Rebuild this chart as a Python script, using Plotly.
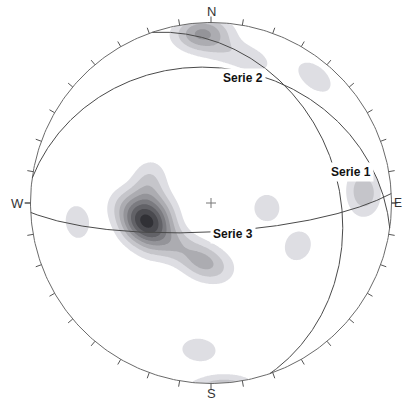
import numpy as np
import plotly.graph_objects as go

# Great circles (planes): dip direction / dip, degrees
PLANE_NAMES = ['Serie 1', 'Serie 2', 'Serie 3']
PLANE_DIPDIR = [71, 8, 177]
PLANE_DIP = [30, 26, 77]

# Poles used for the density contours: trend / plunge (deg) and weight
POLE_TREND = [253.5, 264.7, 240.4, 259.6, 252.4, 277.2, 294.7, 268.7, 220.6, 235.5, 200.1, 185.7, 170.7,
              261.9, 95.1, 116.3, 83.5, 86.4, 88.8, 39.5, 184.7,
              357.2, 354.0, 1.3, 4.1, 13.1, 19.4, 356.0]
POLE_PLUNGE = [59.7, 55.2, 63.4, 67.5, 52.1, 61.2, 59.5, 48.2, 65.0, 56.3, 65.0, 62.7, 59.2,
               26.0, 64.6, 45.3, 18.0, 12.8, 19.7, 10.4, 19.4,
               10.5, 5.9, 4.6, 16.1, 18.1, 19.5, 1.5]
POLE_WEIGHT = [2.2, 1.1, 1.1, 0.9, 0.9, 0.9, 0.7, 0.6, 0.9, 0.6, 0.7, 1.1, 0.6,
               0.85, 0.8, 0.85, 0.6, 0.7, 0.4, 0.9, 0.85,
               1.0, 0.6, 0.5, 0.5, 0.5, 0.35, 0.6]

CONTOUR_LEVELS = np.arange(0.5, 5.01, 0.5)

# page geometry (pixels): net centre and radius
W, H = 404, 405
CX, CY, R = 211, 203, 180.5
KAPPA = 95.0


def px(sx, sy):
    return (sx - CX) / R, (CY - sy) / R


def project(theta, trend):
    """Lower hemisphere equal-area: theta = angle from vertical (rad)."""
    r = np.sqrt(2) * np.sin(theta / 2)
    return r * np.sin(trend), r * np.cos(trend)


# --- density grid ---
n = 361
g = np.linspace(-1, 1, n)
gx, gy = np.meshgrid(g, g)
rr = np.sqrt(gx ** 2 + gy ** 2)
inside = rr <= 1
th = 2 * np.arcsin(np.clip(rr / np.sqrt(2), 0, 1))
tr = np.arctan2(gx, gy)
G = np.stack([np.sin(th) * np.sin(tr), np.sin(th) * np.cos(tr), np.cos(th)], axis=-1).reshape(-1, 3)

pt = np.radians(POLE_TREND)
pp = np.radians(POLE_PLUNGE)
P = np.stack([np.cos(pp) * np.sin(pt), np.cos(pp) * np.cos(pt), np.sin(pp)], axis=-1)
dens = (np.exp(KAPPA * (np.abs(G @ P.T) - 1)) * np.array(POLE_WEIGHT)).sum(axis=1).reshape(n, n)
dens[~inside] = 0

nc = len(CONTOUR_LEVELS)
greys = np.linspace(222, 0, nc)
band_cols = ['rgb(255,255,255)'] + ['rgb(%d,%d,%d)' % (v, v, min(255, v + 5)) for v in greys]
colorscale = [[i / nc, c] for i, c in enumerate(band_cols)]

fig = go.Figure()
fig.add_trace(go.Contour(
    x=g, y=g, z=dens,
    contours=dict(start=CONTOUR_LEVELS[0], end=CONTOUR_LEVELS[-1],
                  size=CONTOUR_LEVELS[1] - CONTOUR_LEVELS[0], coloring='fill', showlines=False),
    colorscale=colorscale, showscale=False, line=dict(width=0), hoverinfo='skip'))

# primitive circle
a = np.radians(np.arange(0, 361, 1))
fig.add_trace(go.Scatter(x=np.sin(a), y=np.cos(a), mode='lines',
                         line=dict(color='#6a6a6a', width=1), hoverinfo='skip'))

# 10 degree ticks
tx, ty = [], []
for az in np.radians(np.arange(0, 360, 10)):
    tx += [np.sin(az), np.sin(az) * (1 + 6 / R), None]
    ty += [np.cos(az), np.cos(az) * (1 + 6 / R), None]
fig.add_trace(go.Scatter(x=tx, y=ty, mode='lines', line=dict(color='#555', width=1), hoverinfo='skip'))

# centre cross
c = 5 / R
fig.add_trace(go.Scatter(x=[-c, c, None, 0, 0], y=[0, 0, None, -c, c], mode='lines',
                         line=dict(color='#777', width=1), hoverinfo='skip'))

# great circles
for name, dd, dip in zip(PLANE_NAMES, PLANE_DIPDIR, PLANE_DIP):
    d, s, dp = np.radians(dd), np.radians(dd - 90), np.radians(dip)
    rake = np.radians(np.linspace(0, 180, 361))
    e = np.cos(rake) * np.sin(s) + np.sin(rake) * np.cos(dp) * np.sin(d)
    nn = np.cos(rake) * np.cos(s) + np.sin(rake) * np.cos(dp) * np.cos(d)
    dn = np.sin(rake) * np.sin(dp)
    x, y = project(np.arccos(np.clip(dn, -1, 1)), np.arctan2(e, nn))
    fig.add_trace(go.Scatter(x=x, y=y, mode='lines', name=name,
                             line=dict(color='#4a4a4a', width=1), hoverinfo='skip'))

annots = []
for text, (sx, sy) in zip(PLANE_NAMES, [(351, 172), (243, 78), (233, 234)]):
    x, y = px(sx, sy)
    annots.append(dict(x=x, y=y, text='<b>%s</b>' % text, showarrow=False, bgcolor='white',
                       borderpad=2, font=dict(family='Liberation Sans, Arial', size=12, color='#111')))
for text, (sx, sy), anchor, size in zip(['N', 'S', 'W', 'E'],
                                        [(211, 11), (211, 393), (17, 203), (404, 203)],
                                        ['center', 'center', 'center', 'right'], [13, 13, 13, 12]):
    x, y = px(sx, sy)
    annots.append(dict(x=x, y=y, text=text, showarrow=False, xanchor=anchor,
                       font=dict(family='Liberation Sans, Arial', size=size, color='#333')))
# short cardinal dashes next to W and E labels
fig.add_trace(go.Scatter(x=[px(25, 0)[0], -1, None, 1, px(396, 0)[0]], y=[0, 0, None, 0, 0], mode='lines',
                         line=dict(color='#555', width=1), hoverinfo='skip'))

fig.update_layout(
    width=W, height=H, margin=dict(l=0, r=0, t=0, b=0),
    paper_bgcolor='white', plot_bgcolor='white', showlegend=False,
    xaxis=dict(range=[px(0, 0)[0], px(W, 0)[0]], visible=False, fixedrange=True),
    yaxis=dict(range=[px(0, H)[1], px(0, 0)[1]], visible=False, fixedrange=True),
    annotations=annots,
)

# drop the default 8px page margin so the figure sits at the window's corner
fig.write_html("out.html", config={'displayModeBar': False},
               post_script="document.body.style.margin = '0px';")
